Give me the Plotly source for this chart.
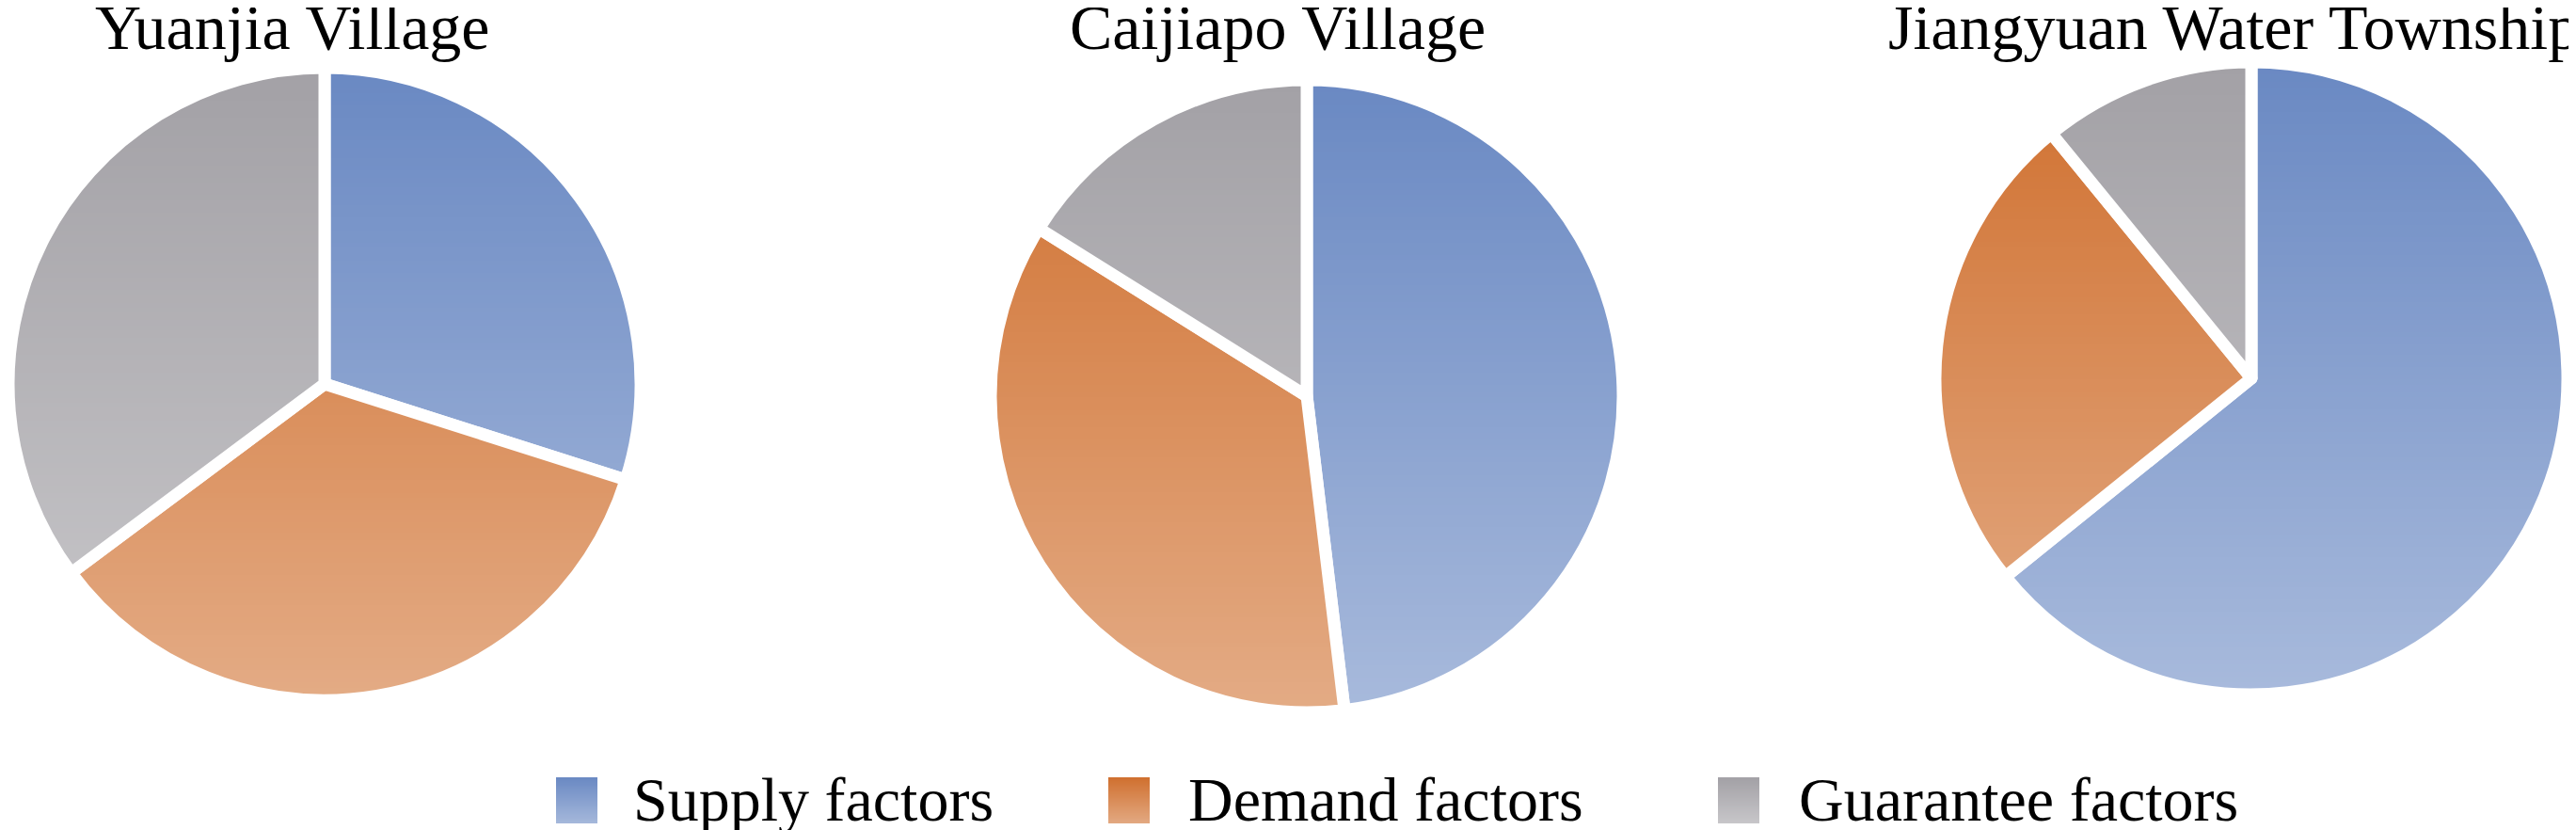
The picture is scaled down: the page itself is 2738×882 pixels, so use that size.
import base64
import struct
import zlib

import plotly.graph_objects as go

# ---------------- data ----------------
categories = ["Supply factors", "Demand factors", "Guarantee factors"]
places = ["Yuanjia Village", "Caijiapo Village", "Jiangyuan Water Township"]
yuanjia_values = [29.9, 34.9, 35.2]
caijiapo_values = [48.1, 35.8, 16.1]
jiangyuan_values = [64.2, 24.9, 10.9]
series_values = [yuanjia_values, caijiapo_values, jiangyuan_values]

# ---------------- style ----------------
W, H = 2738, 882
colors = ["#6a89c3", "#d0702f", "#a3a1a6"]
font_family = "Liberation Serif, Times New Roman, serif"
pie_centers = [(337, 400), (1381, 413), (2385, 394)]  # pixel centres of domains
pie_r = 336
title_x = [303, 1350, 2366]
title_size = 68
title_baseline = 44
legend_marker_x = [583, 1170, 1818]
legend_text_x = [663, 1253, 1902]
legend_marker_w, legend_marker_h = 44, 49
legend_marker_top = 818


def px_x(x):
    return min(max(x / W, 0.0), 1.0)


def px_y(y):
    return min(max(1 - y / H, 0.0), 1.0)


def gradient_png(amax, n=256):
    raw = b"".join(
        b"\x00" + bytes([255, 255, 255, int(round(amax * 255 * i / (n - 1)))])
        for i in range(n)
    )

    def chunk(tag, data):
        c = struct.pack(">I", len(data)) + tag + data
        return c + struct.pack(">I", zlib.crc32(tag + data) & 0xFFFFFFFF)

    png = b"\x89PNG\r\n\x1a\n"
    png += chunk(b"IHDR", struct.pack(">IIBBBBB", 1, n, 8, 6, 0, 0, 0))
    png += chunk(b"IDAT", zlib.compress(raw, 9))
    png += chunk(b"IEND", b"")
    return "data:image/png;base64," + base64.b64encode(png).decode()


grad = gradient_png(0.42)
grad_small = gradient_png(0.40)

fig = go.Figure()
images = []
annotations = []
shapes = []

for place, vals, (cx, cy), tx in zip(places, series_values, pie_centers, title_x):
    x0, x1 = px_x(cx - pie_r), px_x(cx + pie_r)
    y0, y1 = px_y(cy + pie_r), px_y(cy - pie_r)
    fig.add_trace(
        go.Pie(
            labels=categories,
            values=vals,
            sort=False,
            direction="clockwise",
            rotation=0,
            textinfo="none",
            hoverinfo="label+percent",
            marker=dict(colors=colors, line=dict(color="white", width=13)),
            domain=dict(x=[x0, x1], y=[y0, y1]),
            showlegend=False,
            name=place,
        )
    )
    pad = 4
    images.append(
        dict(
            source=grad,
            xref="paper",
            yref="paper",
            x=(cx - pie_r - pad) / W,
            y=1 - (cy - pie_r - pad) / H,
            sizex=2 * (pie_r + pad) / W,
            sizey=2 * (pie_r + pad) / H,
            xanchor="left",
            yanchor="top",
            sizing="stretch",
            layer="above",
        )
    )
    annotations.append(
        dict(
            text=place,
            xref="paper",
            yref="paper",
            x=px_x(tx),
            y=px_y(title_baseline + 17),
            xanchor="center",
            yanchor="bottom",
            showarrow=False,
            font=dict(family=font_family, size=title_size, color="black"),
        )
    )

for cat, col, mx, tx in zip(categories, colors, legend_marker_x, legend_text_x):
    shapes.append(
        dict(
            type="rect",
            xref="paper",
            yref="paper",
            x0=px_x(mx),
            x1=px_x(mx + legend_marker_w),
            y0=px_y(legend_marker_top + legend_marker_h),
            y1=px_y(legend_marker_top),
            fillcolor=col,
            line=dict(width=0),
            layer="below",
        )
    )
    images.append(
        dict(
            source=grad_small,
            xref="paper",
            yref="paper",
            x=px_x(mx),
            y=px_y(legend_marker_top),
            sizex=legend_marker_w / W,
            sizey=legend_marker_h / H,
            xanchor="left",
            yanchor="top",
            sizing="stretch",
            layer="above",
        )
    )
    annotations.append(
        dict(
            text=cat,
            xref="paper",
            yref="paper",
            x=px_x(tx),
            y=px_y(841),
            xanchor="left",
            yanchor="middle",
            showarrow=False,
            font=dict(family=font_family, size=66, color="black"),
        )
    )

fig.update_layout(
    width=W,
    height=H,
    margin=dict(l=0, r=0, t=0, b=0),
    paper_bgcolor="white",
    plot_bgcolor="white",
    images=images,
    annotations=annotations,
    shapes=shapes,
    showlegend=False,
)

fig.write_html("out.html")
